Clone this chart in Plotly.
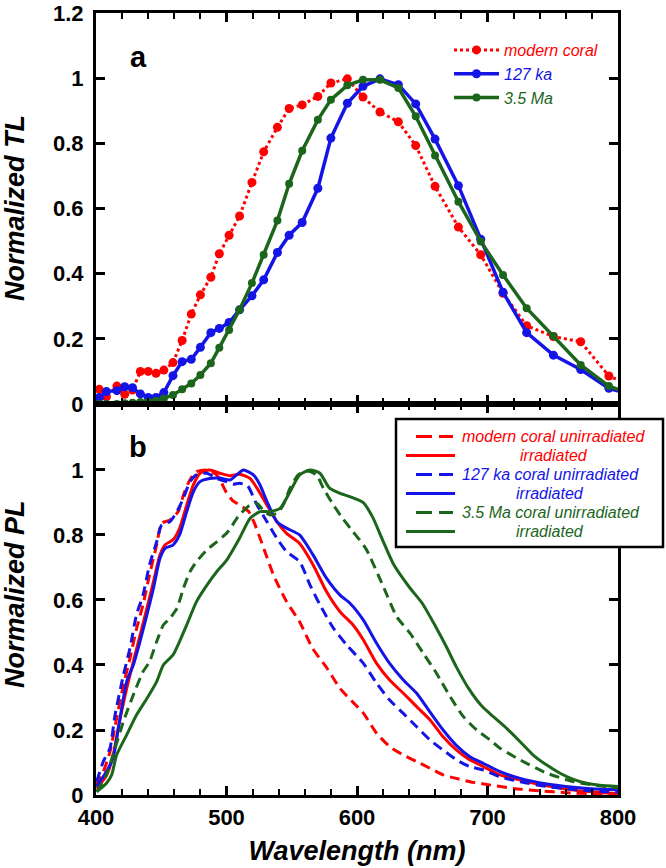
import plotly.graph_objects as go

# ---------------- Panel a: normalized TL ----------------
tl_wl = [402.5, 408, 416, 422, 428, 434, 440, 446, 452, 459, 466, 473, 480, 488, 494.5,
         502, 510, 519.5, 528.5, 539, 548, 558, 570, 580, 592.6, 604.6, 617.6, 631.7,
         645, 659.8, 677.7, 694.8, 711.9, 730, 750.5, 771.4, 793, 812]
tl_modern = [0.045, 0.022, 0.055, 0.03, 0.043, 0.10, 0.10, 0.094, 0.104, 0.127,
             0.195, 0.276, 0.335, 0.389, 0.461, 0.518, 0.577, 0.68, 0.774, 0.849,
             0.907, 0.918, 0.944, 0.985, 0.998, 0.942, 0.896, 0.866, 0.793, 0.668,
             0.543, 0.458, 0.34, 0.24, 0.207, 0.191, 0.086, 0.054]
tl_127ka = [0.02, 0.038, 0.041, 0.053, 0.05, 0.031, 0.02, 0.02, 0.035, 0.087,
            0.13, 0.137, 0.174, 0.219, 0.232, 0.25, 0.289, 0.332, 0.381, 0.465,
            0.518, 0.557, 0.662, 0.816, 0.923, 0.975, 0.998, 0.98, 0.921, 0.813,
            0.67, 0.506, 0.343, 0.219, 0.15, 0.106, 0.048, 0.026]
tl_35ma = [0.0, 0.0, 0.0, 0.002, 0.004, 0.006, 0.006, 0.01, 0.017, 0.028,
           0.045, 0.063, 0.089, 0.125, 0.173, 0.227, 0.289, 0.371, 0.458, 0.563,
           0.676, 0.777, 0.872, 0.934, 0.978, 0.995, 0.995, 0.97, 0.883, 0.763,
           0.621, 0.499, 0.396, 0.294, 0.209, 0.12, 0.055, 0.028]

# ---------------- Panel b: normalized PL ----------------
pl_modern_unirr_wl = [400, 405.6, 410.7, 415.8, 421, 426, 431, 436, 441, 446.5, 450.3, 456.7,
                      463, 467, 472, 477, 485, 492.5, 496, 500, 505, 511, 517, 521, 528, 536,
                      546, 556, 566, 577, 587, 597, 605, 615, 625, 635.5, 645.7, 656, 666,
                      676, 686.5, 697, 720, 740, 761, 781, 800]
pl_modern_unirr = [0.03, 0.072, 0.133, 0.236, 0.338, 0.42, 0.51, 0.585, 0.677, 0.77, 0.836, 0.846,
                   0.872, 0.923, 0.97, 0.995, 1.0, 0.985, 0.962, 0.93, 0.905, 0.89, 0.872, 0.84,
                   0.765, 0.677, 0.595, 0.533, 0.451, 0.39, 0.328, 0.285, 0.251, 0.19, 0.149,
                   0.123, 0.103, 0.082, 0.062, 0.051, 0.041, 0.034, 0.02, 0.013, 0.007, 0.004, 0.003]

pl_modern_irr_wl = [400.5, 408, 413, 418, 423.5, 428.6, 433.7, 439, 444, 449, 453, 459, 464,
                    469.5, 474.6, 479.7, 487, 495, 502.7, 510, 518, 523.4, 531, 538.6, 546, 556,
                    566.4, 576.6, 587, 597, 604.9, 615, 625, 635.5, 645.7, 656, 666, 676.3,
                    686.5, 697, 709.6, 725, 745.5, 766, 786.6, 800]
pl_modern_irr = [0.02, 0.06, 0.12, 0.226, 0.328, 0.41, 0.49, 0.574, 0.656, 0.738, 0.77, 0.785, 0.82,
                 0.892, 0.954, 0.99, 1.0, 0.99, 0.982, 0.987, 0.974, 0.944, 0.892, 0.841, 0.805, 0.774,
                 0.708, 0.626, 0.564, 0.523, 0.477, 0.405, 0.354, 0.313, 0.272, 0.231, 0.179, 0.138,
                 0.108, 0.087, 0.062, 0.046, 0.028, 0.015, 0.008, 0.005]

pl_127_unirr_wl = [400.5, 405.6, 410.7, 414.6, 421, 426, 431, 436, 441, 446.5, 450.3, 456.7, 462,
                   467, 472, 477, 485, 492.5, 500, 505, 510, 516, 523.4, 531, 538.6, 546, 556, 564,
                   571.6, 582, 592, 604.9, 615, 625, 635.5, 645.7, 656, 666, 676.3, 686.5, 697,
                   709.6, 725, 745.5, 766, 786.6, 800]
pl_127_unirr = [0.041, 0.103, 0.144, 0.246, 0.369, 0.451, 0.554, 0.615, 0.708, 0.779, 0.831, 0.841,
                0.872, 0.913, 0.964, 0.985, 0.99, 0.974, 0.964, 0.956, 0.959, 0.952, 0.892, 0.841,
                0.79, 0.749, 0.718, 0.646, 0.585, 0.513, 0.462, 0.405, 0.344, 0.292, 0.251, 0.21,
                0.169, 0.138, 0.108, 0.087, 0.077, 0.056, 0.041, 0.026, 0.017, 0.011, 0.009]

pl_127_irr_wl = [400.5, 408, 413, 418, 423.5, 428.6, 433.7, 439, 444, 449, 453, 459, 464, 469.5,
                 474.6, 479.7, 487, 495, 502.7, 507.8, 513, 520.6, 525.7, 531, 538.6, 546, 556,
                 566.4, 576.6, 587, 594.6, 604.9, 615, 625, 635.5, 645.7, 656, 666, 676.3, 686.5,
                 697, 709.6, 725, 745.5, 766, 786.6, 800]
pl_127_irr = [0.026, 0.072, 0.113, 0.226, 0.349, 0.4, 0.472, 0.554, 0.636, 0.728, 0.759, 0.769,
              0.8, 0.872, 0.933, 0.964, 0.974, 0.975, 0.969, 0.985, 1.0, 0.985, 0.954, 0.903, 0.841,
              0.821, 0.8, 0.738, 0.667, 0.615, 0.59, 0.538, 0.467, 0.405, 0.354, 0.313, 0.255,
              0.2, 0.152, 0.118, 0.097, 0.072, 0.051, 0.034, 0.024, 0.018, 0.017]

pl_35_unirr_wl = [400.5, 408, 413, 421, 428.6, 436, 441, 446.5, 451.6, 456.7, 462, 467, 472, 477,
                  485, 492.5, 500, 510, 518, 523.4, 528, 533, 538.6, 543.5, 548.7, 555, 561.5, 569,
                  574.2, 582, 589, 597, 602, 607.4, 620.2, 630.4, 640.6, 650.8, 661, 671.3, 681.5,
                  691.7, 702, 709.6, 725, 745.5, 766, 786.6, 800]
pl_35_unirr = [0.01, 0.062, 0.123, 0.226, 0.308, 0.379, 0.41, 0.472, 0.523, 0.544, 0.574, 0.636,
               0.687, 0.718, 0.754, 0.779, 0.805, 0.862, 0.892, 0.897, 0.877, 0.862, 0.867, 0.892,
               0.944, 0.985, 0.997, 0.985, 0.944, 0.892, 0.851, 0.81, 0.785, 0.754, 0.641, 0.549,
               0.498, 0.436, 0.374, 0.303, 0.241, 0.2, 0.169, 0.144, 0.108, 0.067, 0.041, 0.028,
               0.022]

pl_35_irr_wl = [400.5, 408, 412, 415.8, 423.5, 431, 439, 446.5, 451.6, 459, 464, 469.5, 477, 485,
                492.5, 500, 510, 518, 525.7, 533, 541, 548.7, 556, 564, 571.6, 579, 587, 594.6,
                604.6, 612, 619, 628, 640, 650, 660, 668, 676, 686, 696, 704.5, 714.7, 725, 735,
                745.4, 755.6, 765.8, 776, 786, 800]
pl_35_irr = [0.01, 0.036, 0.062, 0.123, 0.185, 0.246, 0.297, 0.349, 0.4, 0.431, 0.472, 0.523,
             0.595, 0.646, 0.687, 0.722, 0.79, 0.851, 0.872, 0.872, 0.882, 0.933, 0.985, 1.0, 0.99,
             0.944, 0.928, 0.918, 0.9, 0.855, 0.79, 0.71, 0.64, 0.59, 0.52, 0.46, 0.395, 0.325,
             0.272, 0.241, 0.205, 0.164, 0.123, 0.092, 0.067, 0.048, 0.036, 0.03, 0.026]

# ---------------- styling ----------------
RED = "#ff0000"
BLUE = "#1414e6"
GREEN = "#1c661c"
FONT = "Liberation Sans, Arial, sans-serif"
DASH = "10px,6px"

W, H = 666, 868
ML, MR, MT, MB = 96, 48, 13, 73
PW, PH = W - ML - MR, H - MT - MB


def px(xp):
    return (xp - ML) / PW


def py(yp):
    return (H - MB - yp) / PH


def col(text, c):
    return f"<span style='color:{c}'>{text}</span>"


fig = go.Figure()

# panel a
fig.add_trace(go.Scatter(x=tl_wl, y=tl_modern, mode="lines+markers", name=col("modern coral", RED),
                         line=dict(color=RED, width=3, dash="dot"),
                         marker=dict(color=RED, size=9), xaxis="x", yaxis="y"))
fig.add_trace(go.Scatter(x=tl_wl, y=tl_127ka, mode="lines+markers", name=col("127 ka", BLUE),
                         line=dict(color=BLUE, width=3.5),
                         marker=dict(color=BLUE, size=9), xaxis="x", yaxis="y"))
fig.add_trace(go.Scatter(x=tl_wl, y=tl_35ma, mode="lines+markers", name=col("3.5 Ma", GREEN),
                         line=dict(color=GREEN, width=3.5),
                         marker=dict(color=GREEN, size=8), xaxis="x", yaxis="y"))

# panel b (legend drawn as a boxed key)
pl_series = [
    (pl_modern_unirr_wl, pl_modern_unirr, RED, DASH, "modern coral unirradiated", 0),
    (pl_modern_irr_wl, pl_modern_irr, RED, "solid", "irradiated", 58),
    (pl_127_unirr_wl, pl_127_unirr, BLUE, DASH, "127 ka coral unirradiated", 0),
    (pl_127_irr_wl, pl_127_irr, BLUE, "solid", "irradiated", 54),
    (pl_35_unirr_wl, pl_35_unirr, GREEN, DASH, "3.5 Ma coral unirradiated", 0),
    (pl_35_irr_wl, pl_35_irr, GREEN, "solid", "irradiated", 54),
]
shapes = []
annotations = []
shapes.append(dict(type="rect", xref="paper", yref="paper", x0=px(396), x1=px(663),
                   y0=py(547), y1=py(419), line=dict(color="black", width=2.5),
                   fillcolor="white", layer="above"))
for i, (wl, val, c, dash, label, indent) in enumerate(pl_series):
    fig.add_trace(go.Scatter(x=wl, y=val, mode="lines", name=label, showlegend=False,
                             line=dict(color=c, width=3, dash=dash, shape="spline", smoothing=0.6),
                             xaxis="x2", yaxis="y2"))
    row_y = 436.5 + 19 * i
    if dash == "solid":
        shapes.append(dict(type="line", xref="paper", yref="paper", x0=px(406), x1=px(455),
                           y0=py(row_y), y1=py(row_y), line=dict(color=c, width=3), layer="above"))
    else:
        shapes.append(dict(type="line", xref="paper", yref="paper", x0=px(416), x1=px(453),
                           y0=py(row_y), y1=py(row_y), line=dict(color=c, width=3, dash="16px,7px"),
                           layer="above"))
    annotations.append(dict(text=label, x=px(460 + indent), y=py(row_y), xref="paper", yref="paper",
                            xanchor="left", yanchor="middle", showarrow=False,
                            font=dict(family=FONT, size=16, color=c, style="italic")))

titlefont = dict(family=FONT, size=27, color="black", weight="bold", style="italic")
annotations += [
    dict(text="a", x=px(138), y=py(57), xref="paper", yref="paper", showarrow=False,
         xanchor="center", yanchor="middle",
         font=dict(family=FONT, size=29, color="black", weight="bold")),
    dict(text="b", x=px(138), y=py(447), xref="paper", yref="paper", showarrow=False,
         xanchor="center", yanchor="middle",
         font=dict(family=FONT, size=29, color="black", weight="bold")),
    dict(text="Normalized TL", x=px(15), y=py(208), xref="paper", yref="paper", showarrow=False,
         xanchor="center", yanchor="middle", textangle=-90, font=titlefont),
    dict(text="Normalized PL", x=px(15), y=py(594), xref="paper", yref="paper", showarrow=False,
         xanchor="center", yanchor="middle", textangle=-90, font=titlefont),
]

tickfont = dict(family=FONT, size=22, color="black", weight="bold")

xcommon = dict(range=[400, 800], tick0=400, dtick=100, ticks="inside", ticklen=9, tickwidth=2.5,
               tickcolor="black", showline=True, linewidth=3, linecolor="black", mirror="ticks",
               showgrid=False, zeroline=False, tickfont=tickfont, automargin=False,
               minor=dict(dtick=20, ticks="inside", ticklen=6, tickwidth=2, tickcolor="black",
                          showgrid=False))
ycommon = dict(ticks="inside", ticklen=9, tickwidth=2.5, tickcolor="black", showline=True,
               linewidth=3, linecolor="black", mirror="ticks", showgrid=False, zeroline=False,
               tickfont=tickfont, ticklabelstandoff=5, automargin=False)

fig.update_layout(
    width=W, height=H,
    margin=dict(l=ML, r=MR, t=MT, b=MB, autoexpand=False),
    paper_bgcolor="white", plot_bgcolor="white",
    xaxis=dict(domain=[0, 1], anchor="y", showticklabels=False, **xcommon),
    yaxis=dict(domain=[0.5, 1], anchor="x", range=[0, 1.2], tickvals=[0, 0.2, 0.4, 0.6, 0.8, 1, 1.2],
               **ycommon),
    xaxis2=dict(domain=[0, 1], anchor="y2", ticklabelstandoff=1,
                title=dict(text="Wavelength (nm)", font=titlefont, standoff=12), **xcommon),
    yaxis2=dict(domain=[0, 0.5], anchor="x2", range=[0, 1.203], tickvals=[0, 0.2, 0.4, 0.6, 0.8, 1],
                **ycommon),
    showlegend=True,
    legend=dict(x=px(449), y=py(33), xanchor="left", yanchor="top", bgcolor="rgba(0,0,0,0)",
                borderwidth=0, itemwidth=45, tracegroupgap=0,
                font=dict(family=FONT, size=16, style="italic")),
    shapes=shapes,
    annotations=annotations,
)

fig.write_html("out.html", config={"displayModeBar": False},
               post_script="document.body.style.margin='0';")
